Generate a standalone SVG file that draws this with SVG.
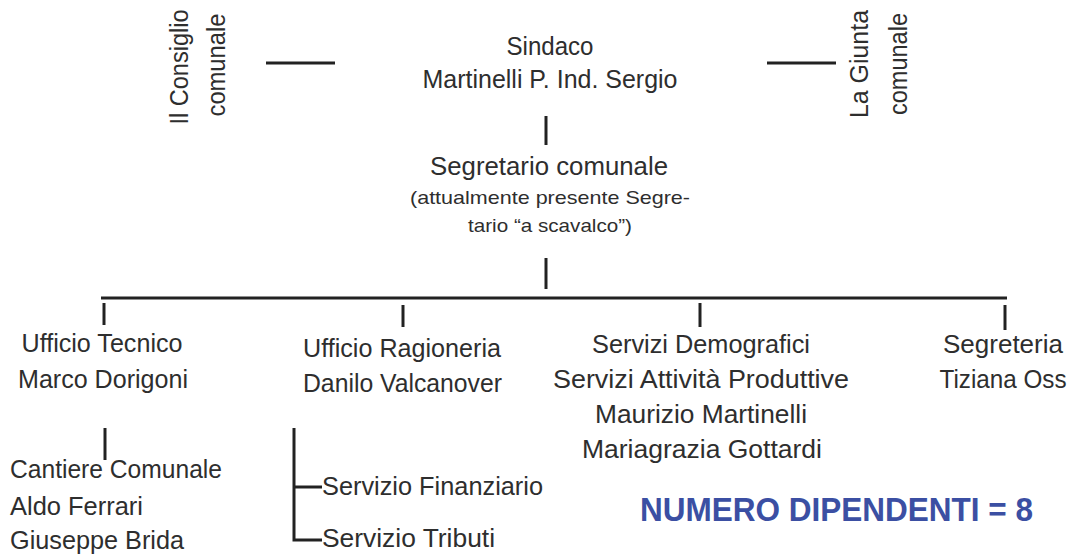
<svg xmlns="http://www.w3.org/2000/svg" width="1081" height="557" viewBox="0 0 1081 557">
<style>
.t{font-family:"Liberation Sans","Open Sans",sans-serif;font-size:25px;fill:#2e2e2e}
.s{font-size:19px}
.c{text-anchor:middle}
.ln{stroke:#222;stroke-width:3;fill:none}
.blue{font-family:"Liberation Sans",sans-serif;font-weight:bold;font-size:33px;fill:#3b4fa3}
</style>
<rect width="1081" height="557" fill="#fff"/>
<g id="connectors">
<line class="ln" x1="266" y1="63" x2="335" y2="63"/>
<line class="ln" x1="767" y1="63" x2="836" y2="63"/>
<line class="ln" x1="546" y1="116" x2="546" y2="145"/>
<line class="ln" x1="546" y1="258" x2="546" y2="289"/>
<line class="ln" x1="101" y1="298" x2="1007" y2="298"/>
<line class="ln" x1="104" y1="303" x2="104" y2="325"/>
<line class="ln" x1="403" y1="305" x2="403" y2="327"/>
<line class="ln" x1="700" y1="303" x2="700" y2="327"/>
<line class="ln" x1="1005" y1="305" x2="1005" y2="330"/>
<line class="ln" x1="105" y1="428" x2="105" y2="460"/>
<polyline class="ln" points="294,428 294,540 322,540"/>
<line class="ln" x1="294" y1="487" x2="322" y2="487"/>
</g>
<g id="consiglio">
<text class="t c" transform="translate(188,67) rotate(-90)" textLength="115" lengthAdjust="spacingAndGlyphs">Il Consiglio</text>
<text class="t c" transform="translate(225,65) rotate(-90)" textLength="103" lengthAdjust="spacingAndGlyphs">comunale</text>
</g>
<g id="giunta">
<text class="t c" transform="translate(868,64) rotate(-90)" textLength="108" lengthAdjust="spacingAndGlyphs">La Giunta</text>
<text class="t c" transform="translate(907,64) rotate(-90)" textLength="102" lengthAdjust="spacingAndGlyphs">comunale</text>
</g>
<g id="sindaco">
<text class="t c" x="550" y="55" textLength="87" lengthAdjust="spacingAndGlyphs">Sindaco</text>
<text class="t c" x="550" y="88" textLength="255" lengthAdjust="spacingAndGlyphs">Martinelli P. Ind. Sergio</text>
</g>
<g id="segretario">
<text class="t c" x="549" y="175" textLength="238" lengthAdjust="spacingAndGlyphs">Segretario comunale</text>
<text class="t s c" x="550" y="204" textLength="280" lengthAdjust="spacingAndGlyphs">(attualmente presente Segre-</text>
<text class="t s c" x="550" y="232" textLength="164" lengthAdjust="spacingAndGlyphs">tario “a scavalco”)</text>
</g>
<g id="ufficio-tecnico">
<text class="t c" x="102" y="352" textLength="161" lengthAdjust="spacingAndGlyphs">Ufficio Tecnico</text>
<text class="t c" x="103" y="388" textLength="170" lengthAdjust="spacingAndGlyphs">Marco Dorigoni</text>
</g>
<g id="cantiere">
<text class="t" x="10" y="478" textLength="212" lengthAdjust="spacingAndGlyphs">Cantiere Comunale</text>
<text class="t" x="10" y="515" textLength="133" lengthAdjust="spacingAndGlyphs">Aldo Ferrari</text>
<text class="t" x="10" y="549" textLength="174" lengthAdjust="spacingAndGlyphs">Giuseppe Brida</text>
</g>
<g id="ragioneria">
<text class="t" x="303" y="357" textLength="198" lengthAdjust="spacingAndGlyphs">Ufficio Ragioneria</text>
<text class="t" x="303" y="392" textLength="199" lengthAdjust="spacingAndGlyphs">Danilo Valcanover</text>
</g>
<g id="servizio-finanziario">
<text class="t" x="322" y="495" textLength="221" lengthAdjust="spacingAndGlyphs">Servizio Finanziario</text>
</g>
<g id="servizio-tributi">
<text class="t" x="322" y="547" textLength="173" lengthAdjust="spacingAndGlyphs">Servizio Tributi</text>
</g>
<g id="demografici">
<text class="t c" x="701" y="353" textLength="218" lengthAdjust="spacingAndGlyphs">Servizi Demografici</text>
<text class="t c" x="701" y="388" textLength="296" lengthAdjust="spacingAndGlyphs">Servizi Attività Produttive</text>
<text class="t c" x="701" y="423" textLength="212" lengthAdjust="spacingAndGlyphs">Maurizio Martinelli</text>
<text class="t c" x="702" y="458" textLength="240" lengthAdjust="spacingAndGlyphs">Mariagrazia Gottardi</text>
</g>
<g id="segreteria">
<text class="t c" x="1003" y="353" textLength="120" lengthAdjust="spacingAndGlyphs">Segreteria</text>
<text class="t c" x="1003" y="388" textLength="127" lengthAdjust="spacingAndGlyphs">Tiziana Oss</text>
</g>
<g id="numero">
<text class="blue" x="640" y="521" textLength="393" lengthAdjust="spacingAndGlyphs">NUMERO DIPENDENTI = 8</text>
</g>
</svg>
